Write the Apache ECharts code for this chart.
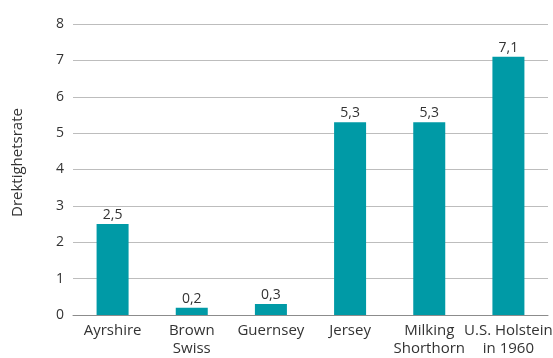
<!DOCTYPE html>
<html>
<head>
<meta charset="utf-8">
<script src="https://cdn.jsdelivr.net/npm/echarts@6/dist/echarts.min.js"></script>
<style>
  html, body { margin: 0; padding: 0; background: #fff; }
  #chart { width: 553px; height: 358px; }
</style>
</head>
<body>
<div id="chart"></div>
<script>
// Pregnancy rate by breed
const categories = ['Ayrshire', 'Brown\nSwiss', 'Guernsey', 'Jersey', 'Milking\nShorthorn', 'U.S. Holstein\nin 1960'];
const rates = [2.5, 0.2, 0.3, 5.3, 5.3, 7.1];
const yTicks = [0, 1, 2, 3, 4, 5, 6, 7, 8];

const fontFamily = '"Open Sans", "Noto Sans", sans-serif';
const chart = echarts.init(document.getElementById('chart'));
chart.setOption({
  animation: false,
  grid: { left: 73, right: 5, top: 24, bottom: 43, containLabel: false, outerBoundsMode: 'none' },
  xAxis: {
    type: 'category',
    data: categories,
    axisTick: { show: false },
    axisLine: { lineStyle: { color: '#8c8c8c', width: 1 } },
    axisLabel: {
      color: '#333',
      fontFamily: fontFamily,
      fontSize: 15,
      lineHeight: 18,
      margin: 7,
      interval: 0
    }
  },
  yAxis: {
    type: 'value',
    min: yTicks[0],
    max: yTicks[yTicks.length - 1],
    interval: 1,
    name: 'Drektighetsrate',
    nameLocation: 'middle',
    nameGap: 48,
    nameRotate: 90,
    nameTextStyle: { color: '#333', fontFamily: fontFamily, fontSize: 15, padding: [0, 0, 0, 14] },
    axisLine: { show: false },
    axisTick: { show: false },
    axisLabel: { color: '#333', fontFamily: fontFamily, fontSize: 14, margin: 9 },
    splitLine: { lineStyle: { color: '#bdbdbd', width: 1 } }
  },
  series: [{
    type: 'bar',
    data: rates,
    barWidth: 32,
    itemStyle: { color: '#009aa6' },
    label: {
      show: true,
      position: 'top',
      distance: 2,
      color: '#333',
      fontFamily: fontFamily,
      fontSize: 14,
      formatter: p => String(p.value).replace('.', ',')
    }
  }]
});
</script>
</body>
</html>
